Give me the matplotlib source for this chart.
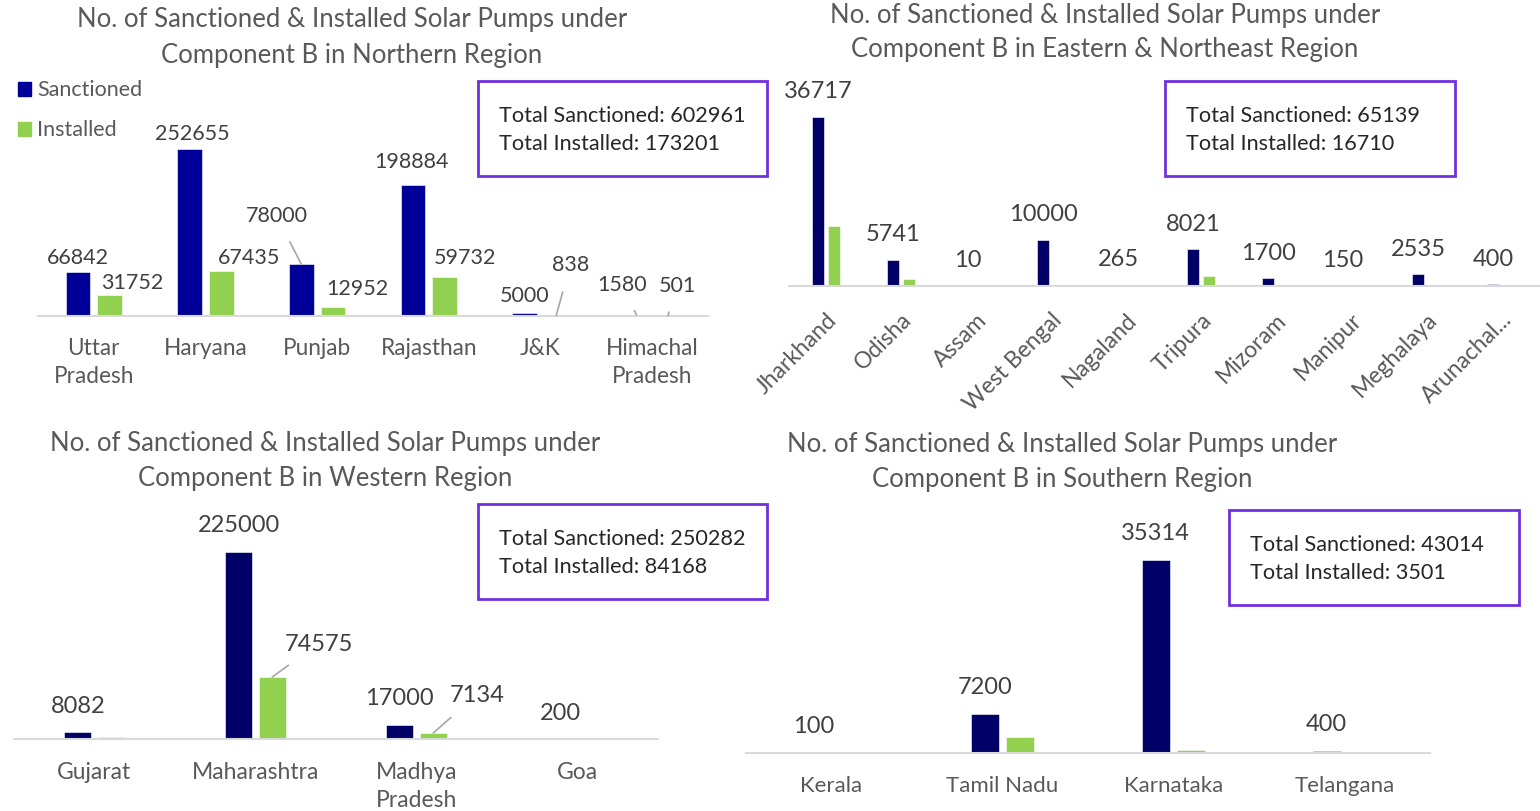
import matplotlib
matplotlib.use('Agg')
import matplotlib.pyplot as plt
import numpy as np

plt.rcParams['font.family'] = ['Lato', 'DejaVu Sans']

# ── data ──
north_states = ['Uttar\nPradesh', 'Haryana', 'Punjab', 'Rajasthan', 'J&K', 'Himachal\nPradesh']
north_sanct = [66842, 252655, 78000, 198884, 5000, 1580]
north_inst = [31752, 67435, 12952, 59732, 838, 501]
north_totals = (602961, 173201)

east_states = ['Jharkhand', 'Odisha', 'Assam', 'West Bengal', 'Nagaland', 'Tripura',
               'Mizoram', 'Manipur', 'Meghalaya', 'Arunachal...']
east_sanct = [36717, 5741, 10, 10000, 265, 8021, 1700, 150, 2535, 400]
east_inst = [13100, 1450, 0, 0, 30, 2100, 0, 0, 0, 30]
east_totals = (65139, 16710)

west_states = ['Gujarat', 'Maharashtra', 'Madhya\nPradesh', 'Goa']
west_sanct = [8082, 225000, 17000, 200]
west_inst = [2459, 74575, 7134, 0]
west_totals = (250282, 84168)

south_states = ['Kerala', 'Tamil Nadu', 'Karnataka', 'Telangana']
south_sanct = [100, 7200, 35314, 400]
south_inst = [1, 3000, 500, 0]
south_totals = (43014, 3501)

W, H = 1540, 812
GREEN = '#92D050'
PURPLE = '#7030E0'
TXT = '#404040'
GREY = '#595959'

fig = plt.figure(figsize=(W / 100, H / 100), dpi=100)


def make_ax(left, right, base, top):
    return fig.add_axes([left / W, 1 - base / H, (right - left) / W, (base - top) / H])


def panel(ax, states, sanct, inst, color, bar_w, off, max_px, axh_px,
          slabels, ilabels, rotate=False, fs=15, cfs=16, pad=18):
    x = np.arange(len(states))
    ax.bar(x - off, sanct, bar_w, color=color, edgecolor='white', linewidth=0.4)
    ax.bar(x + off, inst, bar_w, color=GREEN, edgecolor='white', linewidth=0.4)
    ax.set_xlim(-0.5, len(states) - 0.5)
    ax.set_ylim(0, max(sanct) * axh_px / max_px)
    for s in ['top', 'right', 'left']:
        ax.spines[s].set_visible(False)
    ax.spines['bottom'].set_color('#d9d9d9')
    ax.spines['bottom'].set_linewidth(1.5)
    ax.set_yticks([])
    ax.set_xticks(x)
    if rotate:
        ax.set_xticklabels(states, rotation=45, ha='right', rotation_mode='anchor',
                           fontsize=cfs, color=GREY)
    else:
        ax.set_xticklabels(states, fontsize=cfs, color=GREY, linespacing=1.4, va='top')
    ax.tick_params(axis='x', length=0, pad=pad)
    ax.patch.set_alpha(0)

    # data labels: (index, dx, dy, leader)
    for vals, labs, sgn in ((sanct, slabels, -1), (inst, ilabels, 1)):
        for i, dx, dy, lead in labs:
            xy = (i + sgn * off, vals[i])
            kw = {}
            if lead:
                kw['arrowprops'] = dict(arrowstyle='-', color='#a6a6a6', lw=1.2,
                                        shrinkA=11, shrinkB=0)
            ax.annotate(str(vals[i]), xy=xy, xytext=(dx, dy), textcoords='offset pixels',
                        ha='center', va='center', fontsize=fs, color=TXT, **kw)


def title(cx, y1, region):
    fig.text(cx / W, 1 - y1 / H, 'No. of Sanctioned & Installed Solar Pumps under',
             ha='center', va='center', fontsize=18.5, color=GREY)
    fig.text(cx / W, 1 - (y1 + 35) / H, f'Component B in {region}',
             ha='center', va='center', fontsize=18.5, color=GREY)


def totals_box(x0, y0, x1, y1, tot):
    fig.patches.append(plt.Rectangle((x0 / W, 1 - y1 / H), (x1 - x0) / W, (y1 - y0) / H,
                                     transform=fig.transFigure, fill=False,
                                     edgecolor=PURPLE, linewidth=2))
    fig.text((x0 + 21) / W, 1 - (y0 + 34) / H, f'Total Sanctioned: {tot[0]}',
             ha='left', va='center', fontsize=15.6, color='#262626')
    fig.text((x0 + 21) / W, 1 - (y0 + 62) / H, f'Total Installed: {tot[1]}',
             ha='left', va='center', fontsize=15.6, color='#262626')


# ── Northern ──
ax1 = make_ax(38, 708, 317, 100)
panel(ax1, north_states, north_sanct, north_inst, '#000099', 0.22, 0.141, 167, 217,
      slabels=[(0, 0, 15, False), (1, 3, 16, False), (2, -25, 49, True),
               (3, -2, 24, False), (4, 0, 18, False), (5, -14, 31, True)],
      ilabels=[(0, 23, 13, False), (1, 28, 14, False), (2, 24, 19, False),
               (3, 20, 20, False), (4, 14, 51, True), (5, 9, 31, True)],
      fs=15.5, cfs=16.3, pad=15)
title(352, 20, 'Northern Region')
totals_box(478, 82, 767, 177, north_totals)
fig.patches.append(plt.Rectangle((18 / W, 1 - 97 / H), 13 / W, 14 / H,
                                 transform=fig.transFigure, color='#000099'))
fig.patches.append(plt.Rectangle((18 / W, 1 - 137 / H), 13 / W, 14 / H,
                                 transform=fig.transFigure, color=GREEN))
fig.text(37 / W, 1 - 90 / H, 'Sanctioned', ha='left', va='center', fontsize=15.5, color=GREY)
fig.text(37 / W, 1 - 130 / H, 'Installed', ha='left', va='center', fontsize=15.5, color=GREY)

# ── Eastern & Northeast ──
ax2 = make_ax(788.5, 1538.5, 287, 70)
panel(ax2, east_states, east_sanct, east_inst, '#000066', 0.16, 0.107, 169, 217,
      slabels=[(i, 0, 26, False) for i in range(10)], ilabels=[], rotate=True,
      fs=17, cfs=16.5, pad=16)
title(1105, 15, 'Eastern & Northeast Region')
totals_box(1165, 82, 1455, 177, east_totals)

# ── Western ──
ax3 = make_ax(14, 658, 740, 520)
panel(ax3, west_states, west_sanct, west_inst, '#000066', 0.167, 0.104, 187, 220,
      slabels=[(0, 0, 27, False), (1, 0, 27, False), (2, 0, 27, False), (3, 0, 26, False)],
      ilabels=[(1, 47, 34, True), (2, 44, 39, True)],
      fs=17, cfs=16.5, pad=16)
title(325, 444, 'Western Region')
totals_box(478, 505, 767, 600, west_totals)

# ── Southern ──
ax4 = make_ax(746, 1430, 754, 520)
panel(ax4, south_states, south_sanct, south_inst, '#000066', 0.164, 0.104, 193, 234,
      slabels=[(i, 0, 27, False) for i in range(4)], ilabels=[],
      fs=17, cfs=16, pad=16)
title(1062, 445, 'Southern Region')
totals_box(1229, 511, 1519, 606, south_totals)

fig.savefig('out.png', dpi=100, facecolor='white')
